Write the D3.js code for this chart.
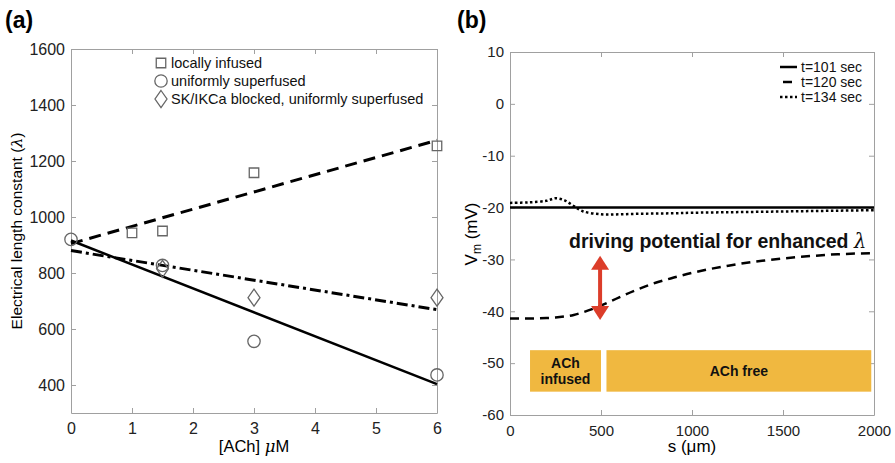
<!DOCTYPE html>
<html>
<head>
<meta charset="utf-8">
<script src="https://cdn.jsdelivr.net/npm/d3@7"></script>
<style>
  body { margin: 0; background: #fff; }
  svg { font-family: "Liberation Sans", Arial, Helvetica, sans-serif; }
</style>
</head>
<body>
<svg id="fig" width="895" height="463"></svg>
<script>
// ---- data: panel (a) ----
const achSquares = [1, 1.5, 3, 6];
const lambdaSquares = [943, 950, 1158, 1254];
const achCircles = [0, 1.5, 3, 6];
const lambdaCircles = [920, 827, 556, 436];
const achDiamonds = [1.5, 3, 6];
const lambdaDiamonds = [815, 712, 712];
// linear fits: endpoints at ACh = 0 and 6
const fitX = [0, 6];
const fitInfused = [905, 1274];
const fitSuperfused = [916, 403];
const fitBlocked = [880, 669];
const legendA = ["locally infused", "uniformly superfused", "SK/IKCa blocked, uniformly superfused"];
const xTicksA = [0, 1, 2, 3, 4, 5, 6];
const yTicksA = [400, 600, 800, 1000, 1200, 1400, 1600];

// ---- data: panel (b) ----
const sPos = [0, 100, 200, 250, 300, 350, 400, 500, 600, 700, 800, 900, 1000, 1200, 1400, 1600, 1800, 2000];
const vm101 = [-20, -20, -20, -20, -20, -20, -20, -20, -20, -20, -20, -20, -20, -20, -20, -20, -20, -20];
const vm120 = [-41.4, -41.4, -41.3, -41.2, -41.0, -40.7, -40.2, -38.9, -37.3, -35.8, -34.5, -33.5, -32.6, -31.2, -30.2, -29.5, -29.0, -28.8];
const vm134 = [-19.1, -19.0, -18.7, -18.2, -18.6, -19.7, -20.7, -21.3, -21.3, -21.2, -21.15, -21.1, -21.0, -20.9, -20.8, -20.7, -20.6, -20.5];
const legendB = ["t=101 sec", "t=120 sec", "t=134 sec"];
const zones = [{ x0: 110, x1: 500, label: ["ACh", "infused"] }, { x0: 530, x1: 1985, label: ["ACh free"] }];
const zoneV = [-47.5, -55.5];
const arrowS = 495, arrowV = [-29.3, -41.7];
const xTicksB = [0, 500, 1000, 1500, 2000];
const yTicksB = [-60, -50, -40, -30, -20, -10, 0, 10];

const svg = d3.select("#fig");
const axisGray = "#a0a0a0";
const markGray = "#666";

// draws a MATLAB-like boxed axes with inward ticks
function boxAxes(g, x, y, xt, yt, fs) {
  const [l, r] = x.range(), [b, t] = y.range();
  const fmt = d => String(d);
  g.append("g").attr("transform", `translate(0,${b})`)
    .call(d3.axisBottom(x).tickValues(xt).tickFormat(fmt).tickSizeInner(-5).tickSizeOuter(0).tickPadding(10));
  g.append("g").attr("transform", `translate(0,${t})`)
    .call(d3.axisTop(x).tickValues(xt).tickSizeInner(-5).tickSizeOuter(0).tickFormat(""));
  g.append("g").attr("transform", `translate(${l},0)`)
    .call(d3.axisLeft(y).tickValues(yt).tickFormat(fmt).tickSizeInner(-5).tickSizeOuter(0).tickPadding(6));
  g.append("g").attr("transform", `translate(${r},0)`)
    .call(d3.axisRight(y).tickValues(yt).tickSizeInner(-5).tickSizeOuter(0).tickFormat(""));
  g.selectAll(".domain, .tick line").attr("stroke", axisGray);
  g.selectAll(".tick text").attr("font-size", fs).attr("fill", "#222")
    .attr("font-family", "Liberation Sans, Arial, sans-serif");
}

// ================= panel (a) =================
const xA = d3.scaleLinear().domain([0, 6]).range([71, 437]);
const yA = d3.scaleLinear().domain([300, 1600]).range([413, 49]);
const gA = svg.append("g");
boxAxes(gA, xA, yA, xTicksA, yTicksA, 16);

const lineA = d3.line().x(d => xA(d[0])).y(d => yA(d[1]));
gA.append("path").datum(d3.zip(fitX, fitInfused)).attr("d", lineA)
  .attr("fill", "none").attr("stroke", "#000").attr("stroke-width", 3).attr("stroke-dasharray", "12,7");
gA.append("path").datum(d3.zip(fitX, fitSuperfused)).attr("d", lineA)
  .attr("fill", "none").attr("stroke", "#000").attr("stroke-width", 2.5);
gA.append("path").datum(d3.zip(fitX, fitBlocked)).attr("d", lineA)
  .attr("fill", "none").attr("stroke", "#000").attr("stroke-width", 3).attr("stroke-dasharray", "11,4,3,4");

const symSquare = d3.symbol().type(d3.symbolSquare).size(90);
const symCircle = d3.symbol().type(d3.symbolCircle).size(120);
const diamondPath = "M0,-8.5L6,0L0,8.5L-6,0Z";

gA.selectAll(".sq").data(d3.zip(achSquares, lambdaSquares)).join("path")
  .attr("d", symSquare).attr("transform", d => `translate(${xA(d[0])},${yA(d[1])})`)
  .attr("fill", "none").attr("stroke", markGray).attr("stroke-width", 1.3);
gA.selectAll(".ci").data(d3.zip(achCircles, lambdaCircles)).join("path")
  .attr("d", symCircle).attr("transform", d => `translate(${xA(d[0])},${yA(d[1])})`)
  .attr("fill", "none").attr("stroke", markGray).attr("stroke-width", 1.3);
gA.selectAll(".di").data(d3.zip(achDiamonds, lambdaDiamonds)).join("path")
  .attr("d", diamondPath).attr("transform", d => `translate(${xA(d[0])},${yA(d[1])})`)
  .attr("fill", "none").attr("stroke", markGray).attr("stroke-width", 1.3);

// legend (a)
const legMarks = [symSquare(), symCircle(), diamondPath];
legendA.forEach((txt, i) => {
  const yy = 63 + i * 18;
  gA.append("path").attr("d", legMarks[i]).attr("transform", `translate(161,${yy})`)
    .attr("fill", "none").attr("stroke", markGray).attr("stroke-width", 1.3);
  gA.append("text").attr("x", 171).attr("y", yy + 5).attr("font-size", 14.5).attr("fill", "#111").text(txt);
});

gA.append("text").attr("x", 254).attr("y", 452).attr("text-anchor", "middle").attr("font-size", 16.5)
  .html('[ACh] <tspan font-style="italic" font-family="DejaVu Serif, serif">μ</tspan>M');
gA.append("text").attr("transform", "translate(22,231) rotate(-90)").attr("text-anchor", "middle")
  .attr("font-size", 15.5).html('Electrical length constant (<tspan font-family="DejaVu Serif, serif" font-style="italic">λ</tspan>)');
svg.append("text").attr("x", 5).attr("y", 28).attr("font-size", 23).attr("font-weight", "bold").text("(a)");

// ================= panel (b) =================
const xB = d3.scaleLinear().domain([0, 2000]).range([510, 874]);
const yB = d3.scaleLinear().domain([-60, 10]).range([415, 52]);
const gB = svg.append("g");
boxAxes(gB, xB, yB, xTicksB, yTicksB, 15);

// ACh zones
zones.forEach(z => {
  gB.append("rect").attr("x", xB(z.x0)).attr("y", yB(zoneV[0]))
    .attr("width", xB(z.x1) - xB(z.x0)).attr("height", yB(zoneV[1]) - yB(zoneV[0]))
    .attr("fill", "#f0b840");
  const cx = (xB(z.x0) + xB(z.x1)) / 2, cy = (yB(zoneV[0]) + yB(zoneV[1])) / 2;
  z.label.forEach((t, i) => {
    gB.append("text").attr("x", cx).attr("y", cy + 5 + (i - (z.label.length - 1) / 2) * 16)
      .attr("text-anchor", "middle").attr("font-size", 14).attr("font-weight", "bold").attr("fill", "#111").text(t);
  });
});

const lineB = d3.line().x(d => xB(d[0])).y(d => yB(d[1])).curve(d3.curveMonotoneX);
gB.append("path").datum(d3.zip(sPos, vm120)).attr("d", lineB)
  .attr("fill", "none").attr("stroke", "#000").attr("stroke-width", 2.5).attr("stroke-dasharray", "9,6");
gB.append("path").datum(d3.zip(sPos, vm134)).attr("d", d3.line().x(d => xB(d[0])).y(d => yB(d[1])).curve(d3.curveCatmullRom))
  .attr("fill", "none").attr("stroke", "#000").attr("stroke-width", 2.5).attr("stroke-dasharray", "2.5,2.5");
gB.append("path").datum(d3.zip(sPos, vm101)).attr("d", lineB)
  .attr("fill", "none").attr("stroke", "#000").attr("stroke-width", 2.5);

// red double arrow
const ax = xB(arrowS), ay0 = yB(arrowV[0]), ay1 = yB(arrowV[1]);
const red = "#dc3d2a";
gB.append("line").attr("x1", ax).attr("x2", ax).attr("y1", ay0 + 10).attr("y2", ay1 - 10)
  .attr("stroke", red).attr("stroke-width", 4);
gB.append("path").attr("d", `M${ax},${ay0}L${ax + 9},${ay0 + 14}L${ax - 9},${ay0 + 14}Z`).attr("fill", red);
gB.append("path").attr("d", `M${ax},${ay1}L${ax + 9},${ay1 - 14}L${ax - 9},${ay1 - 14}Z`).attr("fill", red);

gB.append("text").attr("x", 569).attr("y", 248).attr("font-size", 19.5).attr("font-weight", "bold").attr("fill", "#111")
  .html('driving potential for enhanced <tspan font-weight="normal" font-style="italic" font-family="DejaVu Serif, serif">λ</tspan>');

// legend (b)
const dashB = [null, "9,6", "2.5,2.5"];
legendB.forEach((txt, i) => {
  const yy = 67 + i * 15;
  const ln = gB.append("line").attr("y1", yy).attr("y2", yy).attr("stroke", "#000").attr("stroke-width", 2.5);
  if (i === 1) ln.attr("x1", 783).attr("x2", 792);
  else ln.attr("x1", 780).attr("x2", 797).attr("stroke-dasharray", dashB[i]);
  gB.append("text").attr("x", 801).attr("y", yy + 5).attr("font-size", 14).attr("fill", "#111").text(txt);
});

gB.append("text").attr("x", 692).attr("y", 452).attr("text-anchor", "middle").attr("font-size", 17).text("s (μm)");
gB.append("text").attr("transform", "translate(477,234) rotate(-90)").attr("text-anchor", "middle").attr("font-size", 17)
  .html('V<tspan font-size="12" dy="4">m</tspan><tspan dy="-4"> (mV)</tspan>');
svg.append("text").attr("x", 457).attr("y", 28).attr("font-size", 23).attr("font-weight", "bold").text("(b)");
</script>
</body>
</html>
